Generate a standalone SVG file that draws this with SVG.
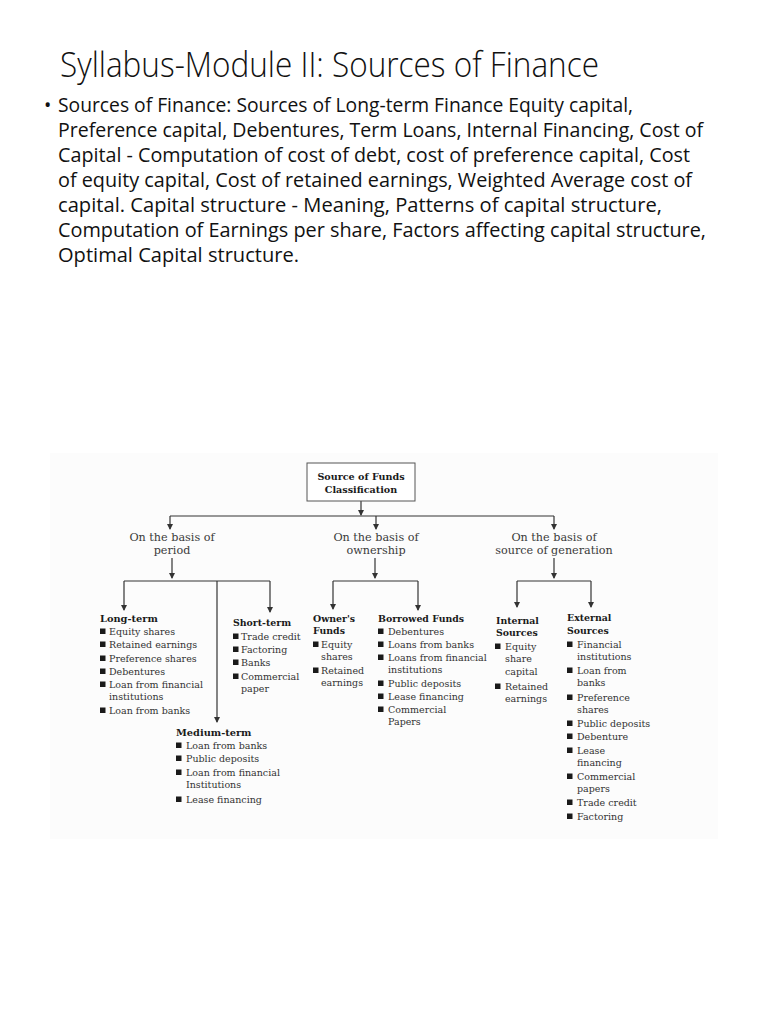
<svg xmlns="http://www.w3.org/2000/svg" width="768" height="1024" viewBox="0 0 768 1024">
<style>
.title{font-family:"Open Sans","Liberation Sans",sans-serif;font-weight:300;font-size:34px;fill:#111}
.body{font-family:"Open Sans","Liberation Sans",sans-serif;font-size:19.5px;fill:#111}
.d{font-family:"DejaVu Serif","Liberation Serif",serif;font-size:9.5px;fill:#333}
.h{font-family:"DejaVu Serif","Liberation Serif",serif;font-size:9.4px;font-weight:bold;fill:#1a1a1a}
.lbl{font-family:"DejaVu Serif","Liberation Serif",serif;font-size:11.2px;fill:#3a3a3a;text-anchor:middle}
.bx{fill:#fff;stroke:#555;stroke-width:1}
.c{fill:none;stroke:#333;stroke-width:1.2}
.sq{fill:#1a1a1a}
</style>
<defs>
<marker id="ar" viewBox="0 0 6 6" refX="5" refY="3" markerWidth="6" markerHeight="6" markerUnits="userSpaceOnUse" orient="auto">
<path d="M0,0 L6,3 L0,6 z" fill="#333"/>
</marker>
</defs>
<rect width="768" height="1024" fill="#fff"/>
<text class="title" x="60" y="77" textLength="539" lengthAdjust="spacingAndGlyphs">Syllabus-Module II: Sources of Finance</text>
<g id="bullet-text">
<text class="body" x="44" y="112">•</text>
<text class="body" x="58" y="112" textLength="575" lengthAdjust="spacingAndGlyphs">Sources of Finance: Sources of Long-term Finance Equity capital,</text>
<text class="body" x="58" y="137" textLength="645" lengthAdjust="spacingAndGlyphs">Preference capital, Debentures, Term Loans, Internal Financing, Cost of</text>
<text class="body" x="58" y="162" textLength="632" lengthAdjust="spacingAndGlyphs">Capital - Computation of cost of debt, cost of preference capital, Cost</text>
<text class="body" x="58" y="187" textLength="634" lengthAdjust="spacingAndGlyphs">of equity capital, Cost of retained earnings, Weighted Average cost of</text>
<text class="body" x="58" y="212" textLength="604" lengthAdjust="spacingAndGlyphs">capital. Capital structure - Meaning, Patterns of capital structure,</text>
<text class="body" x="58" y="237" textLength="648" lengthAdjust="spacingAndGlyphs">Computation of Earnings per share, Factors affecting capital structure,</text>
<text class="body" x="58" y="262" textLength="241" lengthAdjust="spacingAndGlyphs">Optimal Capital structure.</text>
</g>
<rect x="50" y="453" width="668" height="386" fill="#fcfcfc"/>
<g id="connectors">
<path class="c" d="M361,501 V515" marker-end="url(#ar)"/>
<path class="c" d="M170,516 H554"/>
<path class="c" d="M170,516 V529" marker-end="url(#ar)"/>
<path class="c" d="M376,516 V529" marker-end="url(#ar)"/>
<path class="c" d="M554,516 V529" marker-end="url(#ar)"/>
<path class="c" d="M172,558 V578" marker-end="url(#ar)"/>
<path class="c" d="M124,581 H270"/>
<path class="c" d="M124,581 V610" marker-end="url(#ar)"/>
<path class="c" d="M270,581 V612" marker-end="url(#ar)"/>
<path class="c" d="M217,581 V722" marker-end="url(#ar)"/>
<path class="c" d="M375,558 V578" marker-end="url(#ar)"/>
<path class="c" d="M333,581 H418"/>
<path class="c" d="M333,581 V609" marker-end="url(#ar)"/>
<path class="c" d="M418,581 V610" marker-end="url(#ar)"/>
<path class="c" d="M554,558 V578" marker-end="url(#ar)"/>
<path class="c" d="M517,581 H591"/>
<path class="c" d="M517,581 V607" marker-end="url(#ar)"/>
<path class="c" d="M591,581 V607" marker-end="url(#ar)"/>
</g>
<g id="root">
<rect class="bx" x="307" y="463" width="108" height="38"/>
<text class="h" x="361" y="480" text-anchor="middle" style="font-size:9.6px">Source of Funds</text>
<text class="h" x="361" y="493" text-anchor="middle" style="font-size:9.6px">Classification</text>
</g>
<g id="basis-period">
<text class="lbl" x="172" y="541">On the basis of</text>
<text class="lbl" x="172" y="554">period</text>
</g>
<g id="basis-ownership">
<text class="lbl" x="376" y="541">On the basis of</text>
<text class="lbl" x="376" y="554">ownership</text>
</g>
<g id="basis-generation">
<text class="lbl" x="554" y="541">On the basis of</text>
<text class="lbl" x="554" y="554">source of generation</text>
</g>
<g id="long-term">
<text class="h" x="100" y="622" style="font-size:9.8px">Long-term</text>
<g class="sq"><rect x="100" y="628.5" width="5.5" height="5.5"/><rect x="100" y="641.5" width="5.5" height="5.5"/><rect x="100" y="655.5" width="5.5" height="5.5"/><rect x="100" y="668.5" width="5.5" height="5.5"/><rect x="100" y="681.5" width="5.5" height="5.5"/><rect x="100" y="707.5" width="5.5" height="5.5"/></g>
<text class="d" x="109" y="635">Equity shares</text>
<text class="d" x="109" y="648">Retained earnings</text>
<text class="d" x="109" y="662">Preference shares</text>
<text class="d" x="109" y="675">Debentures</text>
<text class="d" x="109" y="688">Loan from financial</text>
<text class="d" x="109" y="700">institutions</text>
<text class="d" x="109" y="714">Loan from banks</text>
</g>
<g id="short-term">
<text class="h" x="233" y="626">Short-term</text>
<g class="sq"><rect x="233" y="633.5" width="5.5" height="5.5"/><rect x="233" y="646.5" width="5.5" height="5.5"/><rect x="233" y="659.5" width="5.5" height="5.5"/><rect x="233" y="673.5" width="5.5" height="5.5"/></g>
<text class="d" x="241" y="640">Trade credit</text>
<text class="d" x="241" y="653">Factoring</text>
<text class="d" x="241" y="666">Banks</text>
<text class="d" x="241" y="680">Commercial</text>
<text class="d" x="241" y="692">paper</text>
</g>
<g id="medium-term">
<text class="h" x="176" y="736" style="font-size:9.8px">Medium-term</text>
<g class="sq"><rect x="176" y="742.5" width="5.5" height="5.5"/><rect x="176" y="755.5" width="5.5" height="5.5"/><rect x="176" y="769.5" width="5.5" height="5.5"/><rect x="176" y="796.5" width="5.5" height="5.5"/></g>
<text class="d" x="186" y="749">Loan from banks</text>
<text class="d" x="186" y="762">Public deposits</text>
<text class="d" x="186" y="776">Loan from financial</text>
<text class="d" x="186" y="788">Institutions</text>
<text class="d" x="186" y="803">Lease financing</text>
</g>
<g id="owners-funds">
<text class="h" x="313" y="622">Owner's</text>
<text class="h" x="313" y="634">Funds</text>
<g class="sq"><rect x="313" y="641.5" width="5.5" height="5.5"/><rect x="313" y="667.5" width="5.5" height="5.5"/></g>
<text class="d" x="321" y="648">Equity</text>
<text class="d" x="321" y="660">shares</text>
<text class="d" x="321" y="674">Retained</text>
<text class="d" x="321" y="686">earnings</text>
</g>
<g id="borrowed-funds">
<text class="h" x="378" y="622">Borrowed Funds</text>
<g class="sq"><rect x="378" y="628.5" width="5.5" height="5.5"/><rect x="378" y="641.5" width="5.5" height="5.5"/><rect x="378" y="654.5" width="5.5" height="5.5"/><rect x="378" y="680.5" width="5.5" height="5.5"/><rect x="378" y="693.5" width="5.5" height="5.5"/><rect x="378" y="706.5" width="5.5" height="5.5"/></g>
<text class="d" x="388" y="635">Debentures</text>
<text class="d" x="388" y="648">Loans from banks</text>
<text class="d" x="388" y="661">Loans from financial</text>
<text class="d" x="388" y="673">institutions</text>
<text class="d" x="388" y="687">Public deposits</text>
<text class="d" x="388" y="700">Lease financing</text>
<text class="d" x="388" y="713">Commercial</text>
<text class="d" x="388" y="725">Papers</text>
</g>
<g id="internal-sources">
<text class="h" x="496" y="624">Internal</text>
<text class="h" x="496" y="636">Sources</text>
<g class="sq"><rect x="495" y="643.5" width="5.5" height="5.5"/><rect x="495" y="683.5" width="5.5" height="5.5"/></g>
<text class="d" x="505" y="650">Equity</text>
<text class="d" x="505" y="662">share</text>
<text class="d" x="505" y="675">capital</text>
<text class="d" x="505" y="690">Retained</text>
<text class="d" x="505" y="702">earnings</text>
</g>
<g id="external-sources">
<text class="h" x="567" y="621">External</text>
<text class="h" x="567" y="634">Sources</text>
<g class="sq"><rect x="567" y="641.5" width="5.5" height="5.5"/><rect x="567" y="667.5" width="5.5" height="5.5"/><rect x="567" y="694.5" width="5.5" height="5.5"/><rect x="567" y="720.5" width="5.5" height="5.5"/><rect x="567" y="733.5" width="5.5" height="5.5"/><rect x="567" y="747.5" width="5.5" height="5.5"/><rect x="567" y="773.5" width="5.5" height="5.5"/><rect x="567" y="799.5" width="5.5" height="5.5"/><rect x="567" y="813.5" width="5.5" height="5.5"/></g>
<text class="d" x="577" y="648">Financial</text>
<text class="d" x="577" y="660">institutions</text>
<text class="d" x="577" y="674">Loan from</text>
<text class="d" x="577" y="686">banks</text>
<text class="d" x="577" y="701">Preference</text>
<text class="d" x="577" y="713">shares</text>
<text class="d" x="577" y="727">Public deposits</text>
<text class="d" x="577" y="740">Debenture</text>
<text class="d" x="577" y="754">Lease</text>
<text class="d" x="577" y="766">financing</text>
<text class="d" x="577" y="780">Commercial</text>
<text class="d" x="577" y="792">papers</text>
<text class="d" x="577" y="806">Trade credit</text>
<text class="d" x="577" y="820">Factoring</text>
</g>
</svg>
